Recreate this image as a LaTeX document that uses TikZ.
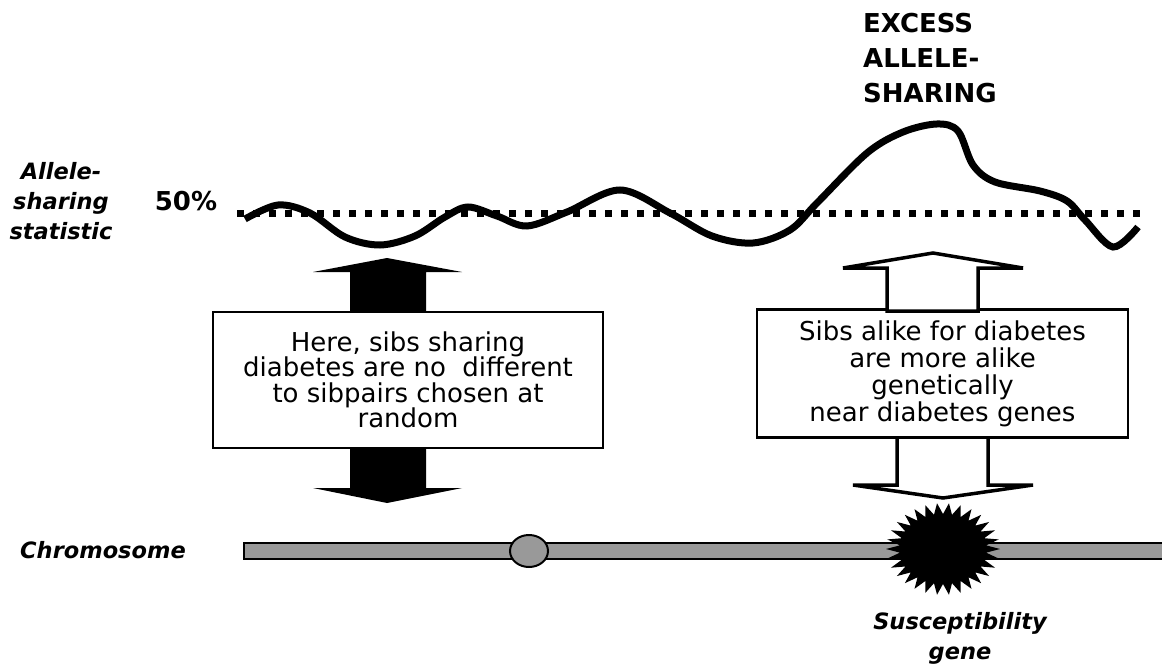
\documentclass[tikz,border=0pt]{standalone}
\usepackage{fontspec}
\setmainfont{DejaVu Sans}
\usetikzlibrary{calc}
\definecolor{chromgray}{HTML}{999999}
\begin{document}
\begin{tikzpicture}[x=1pt,y=-1pt,
  boxtext/.style={draw=black, line width=2.5pt, fill=white, align=center, inner sep=0pt},
  lbl/.style={font=\fontsize{22.5}{30}\selectfont\bfseries\itshape, align=center, inner sep=0pt},
  blackarrow/.style={fill=black},
  whitearrow/.style={draw=black, fill=white, line width=3.5pt, line join=miter},
  chrom/.style={fill=chromgray, draw=black, line width=1.8pt},
  statcurve/.style={line width=7pt},
  dotline/.style={line width=7pt, dash pattern=on 7pt off 9pt}
]
\useasboundingbox (0,0) rectangle (1162,666);
\clip (0,0) rectangle (1162,666);

% labels
\node[lbl] (stat) at (61,201) {Allele-\\sharing\\statistic};
\node[font=\fontsize{26}{26}\selectfont\bfseries, anchor=base, inner sep=0pt] (fifty) at (186,210) {50\%};
\node[lbl, anchor=base] (chromlbl) at (103,558) {Chromosome};
\node[lbl] (susc) at (960,638) {Susceptibility\\gene};
\node[font=\fontsize{26}{35}\selectfont\bfseries, align=left, anchor=north west, inner sep=0pt] (excess) at (863,13) {EXCESS\\ALLELE-\\SHARING};

% 50% line and statistic curve
\coordinate (dl) at (237,213);
\coordinate (dr) at (1141,213);
\draw[dotline] (dl) -- (dr);
\draw[statcurve] plot[smooth, tension=0.55] coordinates {
 (245,219) (278,205) (310,213) (345,237) (380,245) (415,236) (445,217) (468,207)
 (497,216) (527,226) (567,212) (620,190) (670,213) (712,236) (753,243) (790,230)
 (817,203) (867,153) (903,132) (937,124) (958,131) (973,165) (995,182) (1040,191)
 (1067,201) (1085,220) (1113,247) (1138,227)};

% left black arrows
\fill[blackarrow] (350,313) -- (350,272) -- (313,272) -- (387,258) -- (462,272) -- (426,272) -- (426,313) -- cycle;
\fill[blackarrow] (350,447) -- (350,488) -- (313,488) -- (387,503) -- (462,488) -- (426,488) -- (426,447) -- cycle;

% right lower white arrow (behind box)
\draw[whitearrow] (897,436) -- (897,485) -- (853,485) -- (943,498) -- (1033,485) -- (988,485) -- (988,436) -- cycle;

% boxes
\node[boxtext, minimum width=390pt, minimum height=136pt, font=\fontsize{26}{25.5}\selectfont] (lbox) at (408,380)
  {Here, sibs sharing\\diabetes are no\ \ different\\to sibpairs chosen at\\random};
\node[boxtext, minimum width=371pt, minimum height=128pt, font=\fontsize{26}{27}\selectfont] (rbox) at (942.5,373.5)
  {Sibs alike for diabetes\\are more alike\\genetically\\near diabetes genes};

% right upper white arrow (over box edge)
\draw[whitearrow] (887,311) -- (887,268) -- (843,268) -- (933,253) -- (1023,268) -- (978,268) -- (978,311) -- cycle;

% chromosome
\draw[chrom] (244,543) rectangle (1175,559);
\draw[chrom, line width=2pt] (529,551) ellipse [x radius=19pt, y radius=16pt];
\coordinate (gene) at (943,549);
\fill[black] ($(gene)+(57,0)$) \foreach \i [evaluate=\i as \rr using {1-0.24*mod(\i,2)}] in {1,...,59} { -- ($(gene)+({57*\rr*cos(6*\i)},{46*\rr*sin(6*\i)})$) } -- cycle;
\end{tikzpicture}
\end{document}
